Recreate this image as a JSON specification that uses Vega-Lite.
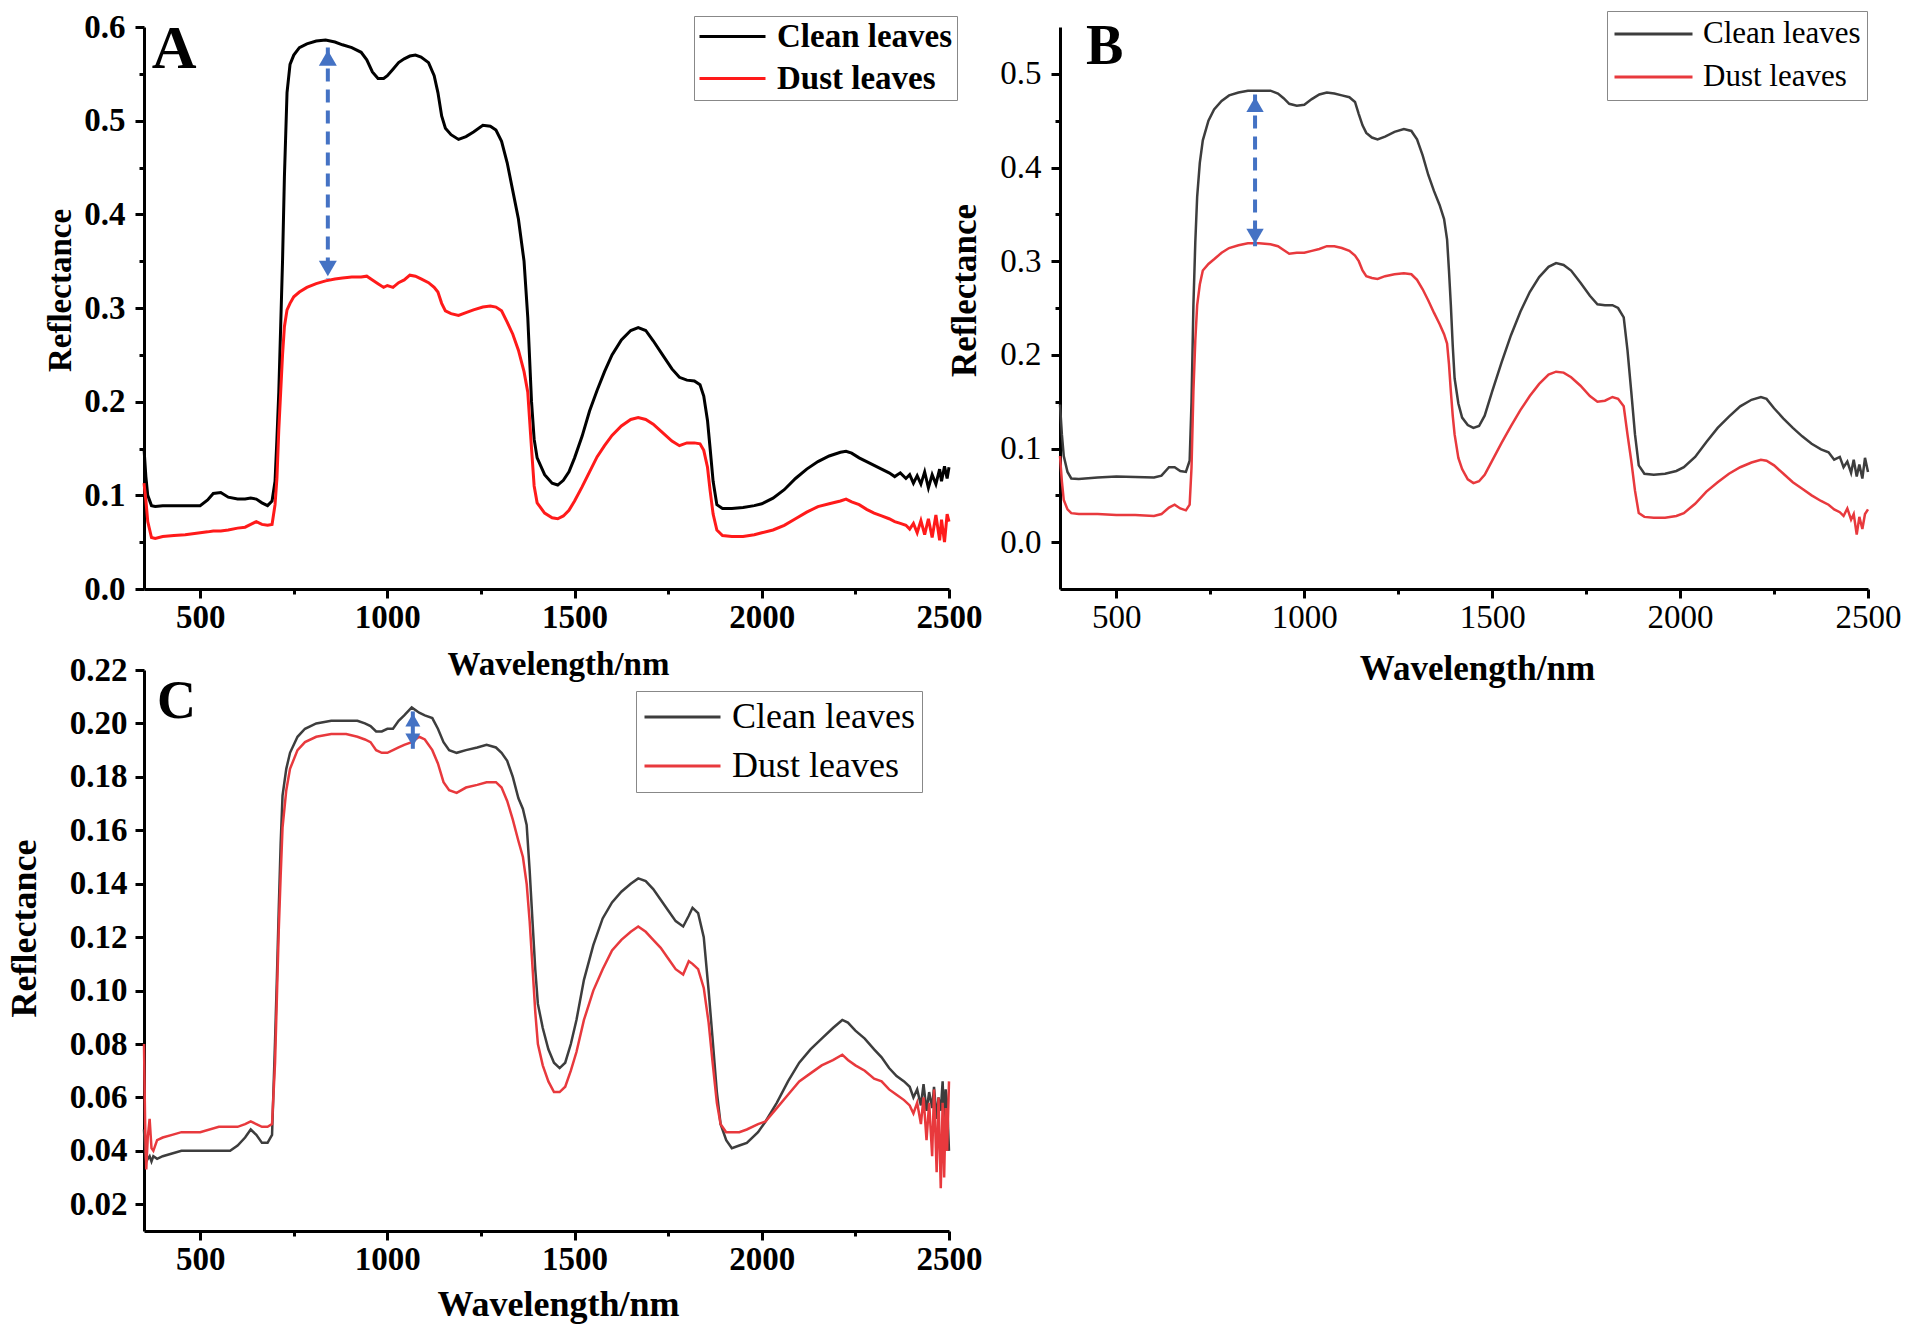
{
"$schema": "https://vega.github.io/schema/vega-lite/v6.json",
"background": "white",
"padding": {"left": 6, "top": 10, "right": 5, "bottom": 5},
"bounds": "flush",
"columns": 2,
"spacing": {"row": 81, "column": 111},
"config": {"view": {"stroke": null}, "axis": {"grid": false}},
"resolve": {"scale": {"color": "independent", "x": "independent", "y": "independent"}, "legend": {"color": "independent"}},
"datasets": {
"specA": [
{"w":350,"Clean leaves":0.150,"Dust leaves":0.113},{"w":355,"Clean leaves":0.120,"Dust leaves":0.095},{"w":360,"Clean leaves":0.100,"Dust leaves":0.072},{"w":370,"Clean leaves":0.089,"Dust leaves":0.055},{"w":380,"Clean leaves":0.088,"Dust leaves":0.054},{"w":400,"Clean leaves":0.089,"Dust leaves":0.056},{"w":430,"Clean leaves":0.089,"Dust leaves":0.057},{"w":460,"Clean leaves":0.089,"Dust leaves":0.058},{"w":500,"Clean leaves":0.089,"Dust leaves":0.060},{"w":520,"Clean leaves":0.095,"Dust leaves":0.061},{"w":535,"Clean leaves":0.102,"Dust leaves":0.062},{"w":555,"Clean leaves":0.103,"Dust leaves":0.062},{"w":575,"Clean leaves":0.098,"Dust leaves":0.063},{"w":600,"Clean leaves":0.096,"Dust leaves":0.065},{"w":620,"Clean leaves":0.096,"Dust leaves":0.066},{"w":635,"Clean leaves":0.097,"Dust leaves":0.069},{"w":650,"Clean leaves":0.096,"Dust leaves":0.072},{"w":665,"Clean leaves":0.092,"Dust leaves":0.069},{"w":680,"Clean leaves":0.089,"Dust leaves":0.068},{"w":692,"Clean leaves":0.094,"Dust leaves":0.069},{"w":700,"Clean leaves":0.115,"Dust leaves":0.090},{"w":705,"Clean leaves":0.160,"Dust leaves":0.118},{"w":710,"Clean leaves":0.210,"Dust leaves":0.170},{"w":715,"Clean leaves":0.280,"Dust leaves":0.210},{"w":720,"Clean leaves":0.350,"Dust leaves":0.250},{"w":725,"Clean leaves":0.440,"Dust leaves":0.280},{"w":732,"Clean leaves":0.530,"Dust leaves":0.298},{"w":740,"Clean leaves":0.560,"Dust leaves":0.305},{"w":750,"Clean leaves":0.570,"Dust leaves":0.312},{"w":765,"Clean leaves":0.578,"Dust leaves":0.317},{"w":785,"Clean leaves":0.582,"Dust leaves":0.322},{"w":810,"Clean leaves":0.585,"Dust leaves":0.326},{"w":835,"Clean leaves":0.586,"Dust leaves":0.329},{"w":860,"Clean leaves":0.584,"Dust leaves":0.331},{"w":880,"Clean leaves":0.581,"Dust leaves":0.332},{"w":905,"Clean leaves":0.578,"Dust leaves":0.333},{"w":930,"Clean leaves":0.573,"Dust leaves":0.333},{"w":945,"Clean leaves":0.565,"Dust leaves":0.334},{"w":960,"Clean leaves":0.552,"Dust leaves":0.330},{"w":975,"Clean leaves":0.545,"Dust leaves":0.326},{"w":990,"Clean leaves":0.545,"Dust leaves":0.322},{"w":1000,"Clean leaves":0.548,"Dust leaves":0.324},{"w":1015,"Clean leaves":0.555,"Dust leaves":0.322},{"w":1030,"Clean leaves":0.562,"Dust leaves":0.327},{"w":1045,"Clean leaves":0.566,"Dust leaves":0.330},{"w":1060,"Clean leaves":0.569,"Dust leaves":0.335},{"w":1075,"Clean leaves":0.570,"Dust leaves":0.334},{"w":1090,"Clean leaves":0.568,"Dust leaves":0.331},{"w":1110,"Clean leaves":0.562,"Dust leaves":0.327},{"w":1125,"Clean leaves":0.548,"Dust leaves":0.322},{"w":1135,"Clean leaves":0.530,"Dust leaves":0.317},{"w":1145,"Clean leaves":0.505,"Dust leaves":0.305},{"w":1155,"Clean leaves":0.492,"Dust leaves":0.297},{"w":1170,"Clean leaves":0.485,"Dust leaves":0.294},{"w":1190,"Clean leaves":0.480,"Dust leaves":0.292},{"w":1210,"Clean leaves":0.483,"Dust leaves":0.295},{"w":1230,"Clean leaves":0.488,"Dust leaves":0.298},{"w":1255,"Clean leaves":0.495,"Dust leaves":0.301},{"w":1275,"Clean leaves":0.494,"Dust leaves":0.302},{"w":1290,"Clean leaves":0.490,"Dust leaves":0.301},{"w":1305,"Clean leaves":0.478,"Dust leaves":0.297},{"w":1320,"Clean leaves":0.455,"Dust leaves":0.285},{"w":1335,"Clean leaves":0.425,"Dust leaves":0.272},{"w":1350,"Clean leaves":0.395,"Dust leaves":0.255},{"w":1365,"Clean leaves":0.350,"Dust leaves":0.232},{"w":1375,"Clean leaves":0.290,"Dust leaves":0.210},{"w":1385,"Clean leaves":0.200,"Dust leaves":0.150},{"w":1392,"Clean leaves":0.160,"Dust leaves":0.110},{"w":1400,"Clean leaves":0.140,"Dust leaves":0.092},{"w":1420,"Clean leaves":0.122,"Dust leaves":0.081},{"w":1440,"Clean leaves":0.113,"Dust leaves":0.076},{"w":1455,"Clean leaves":0.111,"Dust leaves":0.075},{"w":1470,"Clean leaves":0.116,"Dust leaves":0.078},{"w":1485,"Clean leaves":0.125,"Dust leaves":0.084},{"w":1500,"Clean leaves":0.140,"Dust leaves":0.094},{"w":1520,"Clean leaves":0.163,"Dust leaves":0.109},{"w":1540,"Clean leaves":0.190,"Dust leaves":0.125},{"w":1560,"Clean leaves":0.212,"Dust leaves":0.141},{"w":1580,"Clean leaves":0.232,"Dust leaves":0.153},{"w":1600,"Clean leaves":0.250,"Dust leaves":0.164},{"w":1625,"Clean leaves":0.266,"Dust leaves":0.174},{"w":1650,"Clean leaves":0.276,"Dust leaves":0.181},{"w":1670,"Clean leaves":0.279,"Dust leaves":0.183},{"w":1690,"Clean leaves":0.276,"Dust leaves":0.181},{"w":1710,"Clean leaves":0.265,"Dust leaves":0.176},{"w":1735,"Clean leaves":0.250,"Dust leaves":0.167},{"w":1760,"Clean leaves":0.235,"Dust leaves":0.158},{"w":1780,"Clean leaves":0.226,"Dust leaves":0.153},{"w":1800,"Clean leaves":0.223,"Dust leaves":0.156},{"w":1820,"Clean leaves":0.222,"Dust leaves":0.156},{"w":1835,"Clean leaves":0.218,"Dust leaves":0.155},{"w":1845,"Clean leaves":0.206,"Dust leaves":0.148},{"w":1855,"Clean leaves":0.180,"Dust leaves":0.130},{"w":1862,"Clean leaves":0.150,"Dust leaves":0.105},{"w":1870,"Clean leaves":0.115,"Dust leaves":0.080},{"w":1880,"Clean leaves":0.090,"Dust leaves":0.063},{"w":1895,"Clean leaves":0.086,"Dust leaves":0.057},{"w":1920,"Clean leaves":0.086,"Dust leaves":0.056},{"w":1950,"Clean leaves":0.087,"Dust leaves":0.056},{"w":1980,"Clean leaves":0.089,"Dust leaves":0.058},{"w":2000,"Clean leaves":0.091,"Dust leaves":0.060},{"w":2030,"Clean leaves":0.097,"Dust leaves":0.063},{"w":2060,"Clean leaves":0.106,"Dust leaves":0.068},{"w":2090,"Clean leaves":0.118,"Dust leaves":0.075},{"w":2120,"Clean leaves":0.128,"Dust leaves":0.082},{"w":2150,"Clean leaves":0.136,"Dust leaves":0.088},{"w":2180,"Clean leaves":0.142,"Dust leaves":0.091},{"w":2210,"Clean leaves":0.146,"Dust leaves":0.094},{"w":2225,"Clean leaves":0.147,"Dust leaves":0.096},{"w":2240,"Clean leaves":0.145,"Dust leaves":0.093},{"w":2260,"Clean leaves":0.140,"Dust leaves":0.090},{"w":2280,"Clean leaves":0.136,"Dust leaves":0.085},{"w":2300,"Clean leaves":0.132,"Dust leaves":0.081},{"w":2320,"Clean leaves":0.128,"Dust leaves":0.078},{"w":2340,"Clean leaves":0.124,"Dust leaves":0.075},{"w":2355,"Clean leaves":0.120,"Dust leaves":0.072},{"w":2370,"Clean leaves":0.124,"Dust leaves":0.070},{"w":2385,"Clean leaves":0.118,"Dust leaves":0.068},{"w":2395,"Clean leaves":0.122,"Dust leaves":0.064},{"w":2405,"Clean leaves":0.113,"Dust leaves":0.070},{"w":2415,"Clean leaves":0.121,"Dust leaves":0.060},{"w":2425,"Clean leaves":0.112,"Dust leaves":0.073},{"w":2435,"Clean leaves":0.125,"Dust leaves":0.058},{"w":2445,"Clean leaves":0.108,"Dust leaves":0.075},{"w":2455,"Clean leaves":0.122,"Dust leaves":0.055},{"w":2465,"Clean leaves":0.112,"Dust leaves":0.079},{"w":2475,"Clean leaves":0.128,"Dust leaves":0.052},{"w":2480,"Clean leaves":0.115,"Dust leaves":0.074},{"w":2488,"Clean leaves":0.131,"Dust leaves":0.050},{"w":2495,"Clean leaves":0.118,"Dust leaves":0.080},{"w":2500,"Clean leaves":0.130,"Dust leaves":0.072}
],
"specB": [
{"w":350,"Clean leaves":0.147,"Dust leaves":0.092},{"w":355,"Clean leaves":0.115,"Dust leaves":0.065},{"w":360,"Clean leaves":0.092,"Dust leaves":0.045},{"w":370,"Clean leaves":0.075,"Dust leaves":0.035},{"w":380,"Clean leaves":0.068,"Dust leaves":0.031},{"w":400,"Clean leaves":0.0675,"Dust leaves":0.030},{"w":450,"Clean leaves":0.069,"Dust leaves":0.030},{"w":500,"Clean leaves":0.070,"Dust leaves":0.029},{"w":550,"Clean leaves":0.0695,"Dust leaves":0.029},{"w":600,"Clean leaves":0.069,"Dust leaves":0.028},{"w":620,"Clean leaves":0.071,"Dust leaves":0.030},{"w":640,"Clean leaves":0.080,"Dust leaves":0.037},{"w":655,"Clean leaves":0.080,"Dust leaves":0.040},{"w":670,"Clean leaves":0.076,"Dust leaves":0.036},{"w":685,"Clean leaves":0.075,"Dust leaves":0.034},{"w":695,"Clean leaves":0.087,"Dust leaves":0.040},{"w":700,"Clean leaves":0.150,"Dust leaves":0.080},{"w":705,"Clean leaves":0.253,"Dust leaves":0.161},{"w":710,"Clean leaves":0.320,"Dust leaves":0.215},{"w":715,"Clean leaves":0.369,"Dust leaves":0.253},{"w":722,"Clean leaves":0.405,"Dust leaves":0.275},{"w":730,"Clean leaves":0.429,"Dust leaves":0.290},{"w":745,"Clean leaves":0.450,"Dust leaves":0.297},{"w":760,"Clean leaves":0.462,"Dust leaves":0.302},{"w":780,"Clean leaves":0.471,"Dust leaves":0.309},{"w":800,"Clean leaves":0.477,"Dust leaves":0.314},{"w":825,"Clean leaves":0.480,"Dust leaves":0.317},{"w":850,"Clean leaves":0.482,"Dust leaves":0.319},{"w":880,"Clean leaves":0.482,"Dust leaves":0.319},{"w":910,"Clean leaves":0.482,"Dust leaves":0.318},{"w":930,"Clean leaves":0.479,"Dust leaves":0.316},{"w":945,"Clean leaves":0.474,"Dust leaves":0.312},{"w":960,"Clean leaves":0.468,"Dust leaves":0.308},{"w":980,"Clean leaves":0.466,"Dust leaves":0.309},{"w":1000,"Clean leaves":0.467,"Dust leaves":0.309},{"w":1020,"Clean leaves":0.473,"Dust leaves":0.311},{"w":1040,"Clean leaves":0.478,"Dust leaves":0.313},{"w":1060,"Clean leaves":0.480,"Dust leaves":0.316},{"w":1080,"Clean leaves":0.479,"Dust leaves":0.316},{"w":1100,"Clean leaves":0.477,"Dust leaves":0.314},{"w":1120,"Clean leaves":0.475,"Dust leaves":0.311},{"w":1135,"Clean leaves":0.470,"Dust leaves":0.306},{"w":1145,"Clean leaves":0.457,"Dust leaves":0.300},{"w":1155,"Clean leaves":0.445,"Dust leaves":0.290},{"w":1165,"Clean leaves":0.437,"Dust leaves":0.284},{"w":1180,"Clean leaves":0.432,"Dust leaves":0.282},{"w":1195,"Clean leaves":0.430,"Dust leaves":0.281},{"w":1215,"Clean leaves":0.433,"Dust leaves":0.284},{"w":1240,"Clean leaves":0.438,"Dust leaves":0.286},{"w":1265,"Clean leaves":0.441,"Dust leaves":0.287},{"w":1285,"Clean leaves":0.439,"Dust leaves":0.286},{"w":1300,"Clean leaves":0.430,"Dust leaves":0.280},{"w":1315,"Clean leaves":0.413,"Dust leaves":0.270},{"w":1330,"Clean leaves":0.392,"Dust leaves":0.258},{"w":1345,"Clean leaves":0.375,"Dust leaves":0.245},{"w":1360,"Clean leaves":0.360,"Dust leaves":0.233},{"w":1372,"Clean leaves":0.345,"Dust leaves":0.222},{"w":1380,"Clean leaves":0.323,"Dust leaves":0.212},{"w":1385,"Clean leaves":0.290,"Dust leaves":0.190},{"w":1390,"Clean leaves":0.253,"Dust leaves":0.161},{"w":1395,"Clean leaves":0.210,"Dust leaves":0.135},{"w":1400,"Clean leaves":0.175,"Dust leaves":0.115},{"w":1410,"Clean leaves":0.148,"Dust leaves":0.090},{"w":1420,"Clean leaves":0.133,"Dust leaves":0.078},{"w":1435,"Clean leaves":0.125,"Dust leaves":0.067},{"w":1450,"Clean leaves":0.122,"Dust leaves":0.063},{"w":1465,"Clean leaves":0.124,"Dust leaves":0.065},{"w":1480,"Clean leaves":0.135,"Dust leaves":0.072},{"w":1500,"Clean leaves":0.161,"Dust leaves":0.087},{"w":1525,"Clean leaves":0.192,"Dust leaves":0.106},{"w":1550,"Clean leaves":0.221,"Dust leaves":0.124},{"w":1575,"Clean leaves":0.246,"Dust leaves":0.141},{"w":1600,"Clean leaves":0.267,"Dust leaves":0.156},{"w":1625,"Clean leaves":0.283,"Dust leaves":0.169},{"w":1650,"Clean leaves":0.294,"Dust leaves":0.179},{"w":1670,"Clean leaves":0.298,"Dust leaves":0.182},{"w":1690,"Clean leaves":0.296,"Dust leaves":0.181},{"w":1710,"Clean leaves":0.290,"Dust leaves":0.176},{"w":1735,"Clean leaves":0.277,"Dust leaves":0.167},{"w":1760,"Clean leaves":0.263,"Dust leaves":0.156},{"w":1780,"Clean leaves":0.254,"Dust leaves":0.150},{"w":1800,"Clean leaves":0.253,"Dust leaves":0.151},{"w":1820,"Clean leaves":0.253,"Dust leaves":0.155},{"w":1835,"Clean leaves":0.250,"Dust leaves":0.153},{"w":1850,"Clean leaves":0.240,"Dust leaves":0.145},{"w":1860,"Clean leaves":0.205,"Dust leaves":0.115},{"w":1870,"Clean leaves":0.161,"Dust leaves":0.087},{"w":1880,"Clean leaves":0.115,"Dust leaves":0.055},{"w":1890,"Clean leaves":0.082,"Dust leaves":0.031},{"w":1905,"Clean leaves":0.073,"Dust leaves":0.027},{"w":1930,"Clean leaves":0.072,"Dust leaves":0.026},{"w":1960,"Clean leaves":0.073,"Dust leaves":0.026},{"w":1990,"Clean leaves":0.076,"Dust leaves":0.028},{"w":2010,"Clean leaves":0.080,"Dust leaves":0.031},{"w":2040,"Clean leaves":0.091,"Dust leaves":0.041},{"w":2070,"Clean leaves":0.107,"Dust leaves":0.054},{"w":2100,"Clean leaves":0.122,"Dust leaves":0.064},{"w":2130,"Clean leaves":0.134,"Dust leaves":0.073},{"w":2160,"Clean leaves":0.145,"Dust leaves":0.080},{"w":2190,"Clean leaves":0.152,"Dust leaves":0.085},{"w":2215,"Clean leaves":0.155,"Dust leaves":0.088},{"w":2230,"Clean leaves":0.153,"Dust leaves":0.087},{"w":2250,"Clean leaves":0.143,"Dust leaves":0.082},{"w":2275,"Clean leaves":0.132,"Dust leaves":0.073},{"w":2300,"Clean leaves":0.122,"Dust leaves":0.064},{"w":2325,"Clean leaves":0.113,"Dust leaves":0.057},{"w":2350,"Clean leaves":0.105,"Dust leaves":0.050},{"w":2375,"Clean leaves":0.099,"Dust leaves":0.044},{"w":2395,"Clean leaves":0.096,"Dust leaves":0.040},{"w":2410,"Clean leaves":0.088,"Dust leaves":0.035},{"w":2425,"Clean leaves":0.091,"Dust leaves":0.032},{"w":2435,"Clean leaves":0.080,"Dust leaves":0.028},{"w":2445,"Clean leaves":0.086,"Dust leaves":0.036},{"w":2455,"Clean leaves":0.074,"Dust leaves":0.024},{"w":2462,"Clean leaves":0.088,"Dust leaves":0.030},{"w":2470,"Clean leaves":0.070,"Dust leaves":0.008},{"w":2477,"Clean leaves":0.083,"Dust leaves":0.027},{"w":2485,"Clean leaves":0.068,"Dust leaves":0.014},{"w":2492,"Clean leaves":0.090,"Dust leaves":0.030},{"w":2500,"Clean leaves":0.075,"Dust leaves":0.035}
],
"specC": [
{"w":350,"Clean leaves":0.048,"Dust leaves":0.080},{"w":353,"Clean leaves":0.040,"Dust leaves":0.050},{"w":356,"Clean leaves":0.036,"Dust leaves":0.033},{"w":360,"Clean leaves":0.037,"Dust leaves":0.045},{"w":365,"Clean leaves":0.038,"Dust leaves":0.052},{"w":370,"Clean leaves":0.036,"Dust leaves":0.041},{"w":375,"Clean leaves":0.038,"Dust leaves":0.040},{"w":385,"Clean leaves":0.037,"Dust leaves":0.044},{"w":400,"Clean leaves":0.038,"Dust leaves":0.045},{"w":425,"Clean leaves":0.039,"Dust leaves":0.046},{"w":450,"Clean leaves":0.040,"Dust leaves":0.047},{"w":500,"Clean leaves":0.040,"Dust leaves":0.047},{"w":550,"Clean leaves":0.040,"Dust leaves":0.049},{"w":580,"Clean leaves":0.040,"Dust leaves":0.049},{"w":600,"Clean leaves":0.042,"Dust leaves":0.049},{"w":620,"Clean leaves":0.045,"Dust leaves":0.050},{"w":635,"Clean leaves":0.048,"Dust leaves":0.051},{"w":650,"Clean leaves":0.046,"Dust leaves":0.050},{"w":665,"Clean leaves":0.043,"Dust leaves":0.049},{"w":680,"Clean leaves":0.043,"Dust leaves":0.049},{"w":692,"Clean leaves":0.046,"Dust leaves":0.050},{"w":700,"Clean leaves":0.081,"Dust leaves":0.073},{"w":705,"Clean leaves":0.105,"Dust leaves":0.098},{"w":710,"Clean leaves":0.131,"Dust leaves":0.123},{"w":715,"Clean leaves":0.155,"Dust leaves":0.143},{"w":720,"Clean leaves":0.173,"Dust leaves":0.161},{"w":730,"Clean leaves":0.183,"Dust leaves":0.175},{"w":740,"Clean leaves":0.189,"Dust leaves":0.183},{"w":760,"Clean leaves":0.195,"Dust leaves":0.190},{"w":780,"Clean leaves":0.198,"Dust leaves":0.193},{"w":810,"Clean leaves":0.200,"Dust leaves":0.195},{"w":850,"Clean leaves":0.201,"Dust leaves":0.196},{"w":890,"Clean leaves":0.201,"Dust leaves":0.196},{"w":920,"Clean leaves":0.201,"Dust leaves":0.195},{"w":940,"Clean leaves":0.200,"Dust leaves":0.194},{"w":955,"Clean leaves":0.199,"Dust leaves":0.193},{"w":970,"Clean leaves":0.197,"Dust leaves":0.190},{"w":985,"Clean leaves":0.197,"Dust leaves":0.189},{"w":1000,"Clean leaves":0.198,"Dust leaves":0.189},{"w":1015,"Clean leaves":0.198,"Dust leaves":0.190},{"w":1030,"Clean leaves":0.201,"Dust leaves":0.191},{"w":1045,"Clean leaves":0.203,"Dust leaves":0.192},{"w":1065,"Clean leaves":0.206,"Dust leaves":0.193},{"w":1085,"Clean leaves":0.204,"Dust leaves":0.195},{"w":1100,"Clean leaves":0.203,"Dust leaves":0.194},{"w":1120,"Clean leaves":0.202,"Dust leaves":0.190},{"w":1135,"Clean leaves":0.198,"Dust leaves":0.185},{"w":1150,"Clean leaves":0.193,"Dust leaves":0.178},{"w":1165,"Clean leaves":0.190,"Dust leaves":0.175},{"w":1185,"Clean leaves":0.189,"Dust leaves":0.174},{"w":1210,"Clean leaves":0.190,"Dust leaves":0.176},{"w":1240,"Clean leaves":0.191,"Dust leaves":0.177},{"w":1265,"Clean leaves":0.192,"Dust leaves":0.178},{"w":1290,"Clean leaves":0.191,"Dust leaves":0.178},{"w":1305,"Clean leaves":0.189,"Dust leaves":0.176},{"w":1320,"Clean leaves":0.186,"Dust leaves":0.171},{"w":1335,"Clean leaves":0.180,"Dust leaves":0.164},{"w":1350,"Clean leaves":0.172,"Dust leaves":0.156},{"w":1362,"Clean leaves":0.168,"Dust leaves":0.150},{"w":1372,"Clean leaves":0.162,"Dust leaves":0.140},{"w":1380,"Clean leaves":0.145,"Dust leaves":0.126},{"w":1388,"Clean leaves":0.125,"Dust leaves":0.108},{"w":1395,"Clean leaves":0.108,"Dust leaves":0.092},{"w":1402,"Clean leaves":0.095,"Dust leaves":0.080},{"w":1415,"Clean leaves":0.086,"Dust leaves":0.072},{"w":1430,"Clean leaves":0.078,"Dust leaves":0.066},{"w":1445,"Clean leaves":0.073,"Dust leaves":0.062},{"w":1460,"Clean leaves":0.071,"Dust leaves":0.062},{"w":1475,"Clean leaves":0.073,"Dust leaves":0.064},{"w":1490,"Clean leaves":0.080,"Dust leaves":0.070},{"w":1505,"Clean leaves":0.089,"Dust leaves":0.077},{"w":1525,"Clean leaves":0.104,"Dust leaves":0.089},{"w":1550,"Clean leaves":0.117,"Dust leaves":0.100},{"w":1575,"Clean leaves":0.127,"Dust leaves":0.108},{"w":1600,"Clean leaves":0.133,"Dust leaves":0.115},{"w":1625,"Clean leaves":0.137,"Dust leaves":0.119},{"w":1650,"Clean leaves":0.140,"Dust leaves":0.122},{"w":1670,"Clean leaves":0.142,"Dust leaves":0.124},{"w":1690,"Clean leaves":0.141,"Dust leaves":0.122},{"w":1710,"Clean leaves":0.138,"Dust leaves":0.119},{"w":1730,"Clean leaves":0.134,"Dust leaves":0.116},{"w":1750,"Clean leaves":0.130,"Dust leaves":0.112},{"w":1770,"Clean leaves":0.126,"Dust leaves":0.108},{"w":1790,"Clean leaves":0.124,"Dust leaves":0.106},{"w":1805,"Clean leaves":0.128,"Dust leaves":0.111},{"w":1815,"Clean leaves":0.131,"Dust leaves":0.110},{"w":1830,"Clean leaves":0.129,"Dust leaves":0.108},{"w":1845,"Clean leaves":0.120,"Dust leaves":0.101},{"w":1858,"Clean leaves":0.100,"Dust leaves":0.088},{"w":1868,"Clean leaves":0.083,"Dust leaves":0.074},{"w":1880,"Clean leaves":0.062,"Dust leaves":0.058},{"w":1890,"Clean leaves":0.050,"Dust leaves":0.050},{"w":1905,"Clean leaves":0.044,"Dust leaves":0.047},{"w":1920,"Clean leaves":0.041,"Dust leaves":0.047},{"w":1940,"Clean leaves":0.042,"Dust leaves":0.047},{"w":1960,"Clean leaves":0.043,"Dust leaves":0.048},{"w":1990,"Clean leaves":0.047,"Dust leaves":0.050},{"w":2010,"Clean leaves":0.051,"Dust leaves":0.051},{"w":2040,"Clean leaves":0.058,"Dust leaves":0.056},{"w":2070,"Clean leaves":0.066,"Dust leaves":0.061},{"w":2100,"Clean leaves":0.073,"Dust leaves":0.066},{"w":2130,"Clean leaves":0.078,"Dust leaves":0.069},{"w":2160,"Clean leaves":0.082,"Dust leaves":0.072},{"w":2190,"Clean leaves":0.086,"Dust leaves":0.074},{"w":2215,"Clean leaves":0.089,"Dust leaves":0.076},{"w":2230,"Clean leaves":0.088,"Dust leaves":0.074},{"w":2250,"Clean leaves":0.085,"Dust leaves":0.072},{"w":2275,"Clean leaves":0.082,"Dust leaves":0.070},{"w":2300,"Clean leaves":0.078,"Dust leaves":0.067},{"w":2320,"Clean leaves":0.075,"Dust leaves":0.066},{"w":2340,"Clean leaves":0.071,"Dust leaves":0.063},{"w":2360,"Clean leaves":0.068,"Dust leaves":0.061},{"w":2380,"Clean leaves":0.066,"Dust leaves":0.059},{"w":2395,"Clean leaves":0.064,"Dust leaves":0.057},{"w":2405,"Clean leaves":0.060,"Dust leaves":0.054},{"w":2415,"Clean leaves":0.063,"Dust leaves":0.058},{"w":2425,"Clean leaves":0.057,"Dust leaves":0.050},{"w":2432,"Clean leaves":0.065,"Dust leaves":0.060},{"w":2440,"Clean leaves":0.055,"Dust leaves":0.044},{"w":2447,"Clean leaves":0.062,"Dust leaves":0.058},{"w":2455,"Clean leaves":0.056,"Dust leaves":0.038},{"w":2460,"Clean leaves":0.064,"Dust leaves":0.063},{"w":2467,"Clean leaves":0.052,"Dust leaves":0.032},{"w":2472,"Clean leaves":0.060,"Dust leaves":0.060},{"w":2478,"Clean leaves":0.055,"Dust leaves":0.026},{"w":2483,"Clean leaves":0.066,"Dust leaves":0.058},{"w":2487,"Clean leaves":0.050,"Dust leaves":0.030},{"w":2491,"Clean leaves":0.063,"Dust leaves":0.056},{"w":2495,"Clean leaves":0.058,"Dust leaves":0.040},{"w":2500,"Clean leaves":0.040,"Dust leaves":0.066}
]
},
"concat": [
{
"width": 805, "height": 562,
"layer": [
{
"data": {"name": "specA"},
"transform": [{"fold": ["Clean leaves", "Dust leaves"], "as": ["series", "reflectance"]}],
"mark": {"type": "line", "strokeWidth": 3},
"encoding": {
"x": {"field": "w", "type": "quantitative", "scale": {"domain": [350, 2500], "nice": false, "zero": false},
"axis": {"title": "Wavelength/nm", "values": [500,750,1000,1250,1500,1750,2000,2250,2500], "format": "d",
"labelExpr": "datum.value % 500 === 0 ? datum.label : ''",
"tickSize": {"condition": {"test": "datum.value % 500 !== 0", "value": 5}, "value": 9},
"tickWidth": 3, "tickColor": "black", "domainWidth": 3, "domainColor": "black",
"labelFont": "Liberation Serif", "labelFontSize": 33, "labelFontWeight": "bold", "labelColor": "black", "labelPadding": 3, "labelOverlap": false, "labelFlush": false,
"titleFont": "Liberation Serif", "titleFontSize": 33, "titleFontWeight": "bold", "titleColor": "black", "titleX": 414, "titleY": 75, "titleBaseline": "middle"}},
"y": {"field": "reflectance", "type": "quantitative", "scale": {"domain": [0, 0.6], "nice": false, "zero": false},
"axis": {"title": "Reflectance", "values": [0,0.05,0.1,0.15,0.2,0.25,0.3,0.35,0.4,0.45,0.5,0.55,0.6], "format": ".1f",
"labelExpr": "round(datum.value*100) % 10 === 0 ? datum.label : ''",
"tickSize": {"condition": {"test": "round(datum.value*100) % 10 !== 0", "value": 5}, "value": 9},
"tickWidth": 3, "tickColor": "black", "domainWidth": 3, "domainColor": "black",
"labelFont": "Liberation Serif", "labelFontSize": 33, "labelFontWeight": "bold", "labelColor": "black", "labelPadding": 10, "labelOverlap": false, "labelFlush": false,
"titleFont": "Liberation Serif", "titleFontSize": 33, "titleFontWeight": "bold", "titleColor": "black", "titleX": -84, "titleY": 263, "titleBaseline": "middle"}},
"color": {"field": "series", "type": "nominal", "scale": {"domain": ["Clean leaves", "Dust leaves"], "range": ["#000000", "#ff1a1a"]},
"legend": {"title": null, "orient": "none", "legendX": 550, "legendY": -11, "symbolType": "stroke", "symbolSize": 4356, "symbolStrokeWidth": 3, "clipHeight": 33, "rowPadding": 8, "padding": 4, "labelFont": "Liberation Serif", "labelFontSize": 33, "labelFontWeight": "bold", "labelColor": "black", "labelOffset": 10, "labelLimit": 400, "strokeColor": "#888888", "fillColor": "white"}}
}
},
{
"data": {"values": [{"w": 841, "top": 0.578, "bottom": 0.331}]},
"mark": {"type": "rule", "color": "#4472C4", "strokeWidth": 4, "strokeDash": [13, 8]},
"encoding": {"x": {"field": "w", "type": "quantitative"}, "y": {"field": "top", "type": "quantitative"}, "y2": {"field": "bottom"}}
},
{
"data": {"values": [{"w": 841, "top": 0.578, "bottom": 0.331}]},
"mark": {"type": "point", "shape": "triangle-up", "filled": true, "size": 324, "color": "#4472C4", "opacity": 1, "yOffset": 10.4},
"encoding": {"x": {"field": "w", "type": "quantitative"}, "y": {"field": "top", "type": "quantitative"}}
},
{
"data": {"values": [{"w": 841, "top": 0.578, "bottom": 0.331}]},
"mark": {"type": "point", "shape": "triangle-down", "filled": true, "size": 324, "color": "#4472C4", "opacity": 1, "yOffset": -10.4},
"encoding": {"x": {"field": "w", "type": "quantitative"}, "y": {"field": "bottom", "type": "quantitative"}}
},
{
"data": {"values": [{"w": 371, "y": 0.556, "label": "A"}]},
"mark": {"type": "text", "align": "left", "baseline": "alphabetic", "font": "Liberation Serif", "fontSize": 62, "fontWeight": "bold", "color": "black"},
"encoding": {"x": {"field": "w", "type": "quantitative"}, "y": {"field": "y", "type": "quantitative"}, "text": {"field": "label"}}
}
]
},
{
"width": 808, "height": 562,
"layer": [
{
"data": {"name": "specB"},
"transform": [{"fold": ["Clean leaves", "Dust leaves"], "as": ["series", "reflectance"]}],
"mark": {"type": "line", "strokeWidth": 2.5},
"encoding": {
"x": {"field": "w", "type": "quantitative", "scale": {"domain": [350, 2500], "nice": false, "zero": false},
"axis": {"title": "Wavelength/nm", "values": [500,750,1000,1250,1500,1750,2000,2250,2500], "format": "d",
"labelExpr": "datum.value % 500 === 0 ? datum.label : ''",
"tickSize": {"condition": {"test": "datum.value % 500 !== 0", "value": 5}, "value": 9},
"tickWidth": 3, "tickColor": "black", "domainWidth": 3, "domainColor": "black",
"labelFont": "Liberation Serif", "labelFontSize": 33, "labelFontWeight": "normal", "labelColor": "black", "labelPadding": 3, "labelOverlap": false, "labelFlush": false,
"titleFont": "Liberation Serif", "titleFontSize": 35, "titleFontWeight": "bold", "titleColor": "black", "titleX": 417, "titleY": 79, "titleBaseline": "middle"}},
"y": {"field": "reflectance", "type": "quantitative", "scale": {"domain": [-0.05, 0.55], "nice": false, "zero": false},
"axis": {"title": "Reflectance", "values": [0,0.05,0.1,0.15,0.2,0.25,0.3,0.35,0.4,0.45,0.5], "format": ".1f",
"labelExpr": "round(datum.value*100) % 10 === 0 ? datum.label : ''",
"tickSize": {"condition": {"test": "round(datum.value*100) % 10 !== 0", "value": 5}, "value": 9},
"tickWidth": 3, "tickColor": "black", "domainWidth": 3, "domainColor": "black",
"labelFont": "Liberation Serif", "labelFontSize": 33, "labelFontWeight": "normal", "labelColor": "black", "labelPadding": 10, "labelOverlap": false, "labelFlush": false,
"titleFont": "Liberation Serif", "titleFontSize": 35, "titleFontWeight": "bold", "titleColor": "black", "titleX": -96, "titleY": 263, "titleBaseline": "middle"}},
"color": {"field": "series", "type": "nominal", "scale": {"domain": ["Clean leaves", "Dust leaves"], "range": ["#3d3d3d", "#e8393d"]},
"legend": {"title": null, "orient": "none", "legendX": 547, "legendY": -16, "symbolType": "stroke", "symbolSize": 6084, "symbolStrokeWidth": 3, "clipHeight": 34, "rowPadding": 9, "padding": 6, "labelFont": "Liberation Serif", "labelFontSize": 31, "labelFontWeight": "normal", "labelColor": "black", "labelOffset": 9, "labelLimit": 400, "strokeColor": "#888888", "fillColor": "white"}}
}
},
{
"data": {"values": [{"w": 869, "top": 0.478, "bottom": 0.316}]},
"mark": {"type": "rule", "color": "#4472C4", "strokeWidth": 4, "strokeDash": [13, 8]},
"encoding": {"x": {"field": "w", "type": "quantitative"}, "y": {"field": "top", "type": "quantitative"}, "y2": {"field": "bottom"}}
},
{
"data": {"values": [{"w": 869, "top": 0.478, "bottom": 0.316}]},
"mark": {"type": "point", "shape": "triangle-up", "filled": true, "size": 300, "color": "#4472C4", "opacity": 1, "yOffset": 10},
"encoding": {"x": {"field": "w", "type": "quantitative"}, "y": {"field": "top", "type": "quantitative"}}
},
{
"data": {"values": [{"w": 869, "top": 0.478, "bottom": 0.316}]},
"mark": {"type": "point", "shape": "triangle-down", "filled": true, "size": 300, "color": "#4472C4", "opacity": 1, "yOffset": -10},
"encoding": {"x": {"field": "w", "type": "quantitative"}, "y": {"field": "bottom", "type": "quantitative"}}
},
{
"data": {"values": [{"w": 419, "y": 0.5105, "label": "B"}]},
"mark": {"type": "text", "align": "left", "baseline": "alphabetic", "font": "Liberation Serif", "fontSize": 56, "fontWeight": "bold", "color": "black"},
"encoding": {"x": {"field": "w", "type": "quantitative"}, "y": {"field": "y", "type": "quantitative"}, "text": {"field": "label"}}
}
]
},
{
"width": 805, "height": 561,
"layer": [
{
"data": {"name": "specC"},
"transform": [{"fold": ["Clean leaves", "Dust leaves"], "as": ["series", "reflectance"]}],
"mark": {"type": "line", "strokeWidth": 2.5},
"encoding": {
"x": {"field": "w", "type": "quantitative", "scale": {"domain": [350, 2500], "nice": false, "zero": false},
"axis": {"title": "Wavelength/nm", "values": [500,750,1000,1250,1500,1750,2000,2250,2500], "format": "d",
"labelExpr": "datum.value % 500 === 0 ? datum.label : ''",
"tickSize": {"condition": {"test": "datum.value % 500 !== 0", "value": 5}, "value": 9},
"tickWidth": 3, "tickColor": "black", "domainWidth": 3, "domainColor": "black",
"labelFont": "Liberation Serif", "labelFontSize": 33, "labelFontWeight": "bold", "labelColor": "black", "labelPadding": 3, "labelOverlap": false, "labelFlush": false,
"titleFont": "Liberation Serif", "titleFontSize": 36, "titleFontWeight": "bold", "titleColor": "black", "titleX": 414, "titleY": 73, "titleBaseline": "middle"}},
"y": {"field": "reflectance", "type": "quantitative", "scale": {"domain": [0.01, 0.22], "nice": false, "zero": false},
"axis": {"title": "Reflectance", "values": [0.02,0.03,0.04,0.05,0.06,0.07,0.08,0.09,0.1,0.11,0.12,0.13,0.14,0.15,0.16,0.17,0.18,0.19,0.2,0.21,0.22], "format": ".2f",
"labelExpr": "round(datum.value*100) % 2 === 0 ? datum.label : ''",
"tickSize": {"condition": {"test": "round(datum.value*100) % 2 !== 0", "value": 5}, "value": 9},
"tickWidth": 3, "tickColor": "black", "domainWidth": 3, "domainColor": "black",
"labelFont": "Liberation Serif", "labelFontSize": 33, "labelFontWeight": "bold", "labelColor": "black", "labelPadding": 8, "labelOverlap": false, "labelFlush": false,
"titleFont": "Liberation Serif", "titleFontSize": 36, "titleFontWeight": "bold", "titleColor": "black", "titleX": -120, "titleY": 258, "titleBaseline": "middle"}},
"color": {"field": "series", "type": "nominal", "scale": {"domain": ["Clean leaves", "Dust leaves"], "range": ["#3d3d3d", "#e8393d"]},
"legend": {"title": null, "orient": "none", "legendX": 492, "legendY": 21, "symbolType": "stroke", "symbolSize": 5776, "symbolStrokeWidth": 3, "clipHeight": 38, "rowPadding": 11, "padding": 7, "labelFont": "Liberation Serif", "labelFontSize": 36, "labelFontWeight": "normal", "labelColor": "black", "labelOffset": 10, "labelLimit": 400, "strokeColor": "#888888", "fillColor": "white"}}
}
},
{
"data": {"values": [{"w": 1068, "top": 0.2045, "bottom": 0.1905}]},
"mark": {"type": "rule", "color": "#4472C4", "strokeWidth": 4},
"encoding": {"x": {"field": "w", "type": "quantitative"}, "y": {"field": "top", "type": "quantitative"}, "y2": {"field": "bottom"}}
},
{
"data": {"values": [{"w": 1068, "top": 0.2045, "bottom": 0.1905}]},
"mark": {"type": "point", "shape": "triangle-up", "filled": true, "size": 225, "color": "#4472C4", "opacity": 1, "yOffset": 8.7},
"encoding": {"x": {"field": "w", "type": "quantitative"}, "y": {"field": "top", "type": "quantitative"}}
},
{
"data": {"values": [{"w": 1068, "top": 0.2045, "bottom": 0.1905}]},
"mark": {"type": "point", "shape": "triangle-down", "filled": true, "size": 225, "color": "#4472C4", "opacity": 1, "yOffset": -8.7},
"encoding": {"x": {"field": "w", "type": "quantitative"}, "y": {"field": "bottom", "type": "quantitative"}}
},
{
"data": {"values": [{"w": 385, "y": 0.202, "label": "C"}]},
"mark": {"type": "text", "align": "left", "baseline": "alphabetic", "font": "Liberation Serif", "fontSize": 54, "fontWeight": "bold", "color": "black"},
"encoding": {"x": {"field": "w", "type": "quantitative"}, "y": {"field": "y", "type": "quantitative"}, "text": {"field": "label"}}
}
]
}
]
}
